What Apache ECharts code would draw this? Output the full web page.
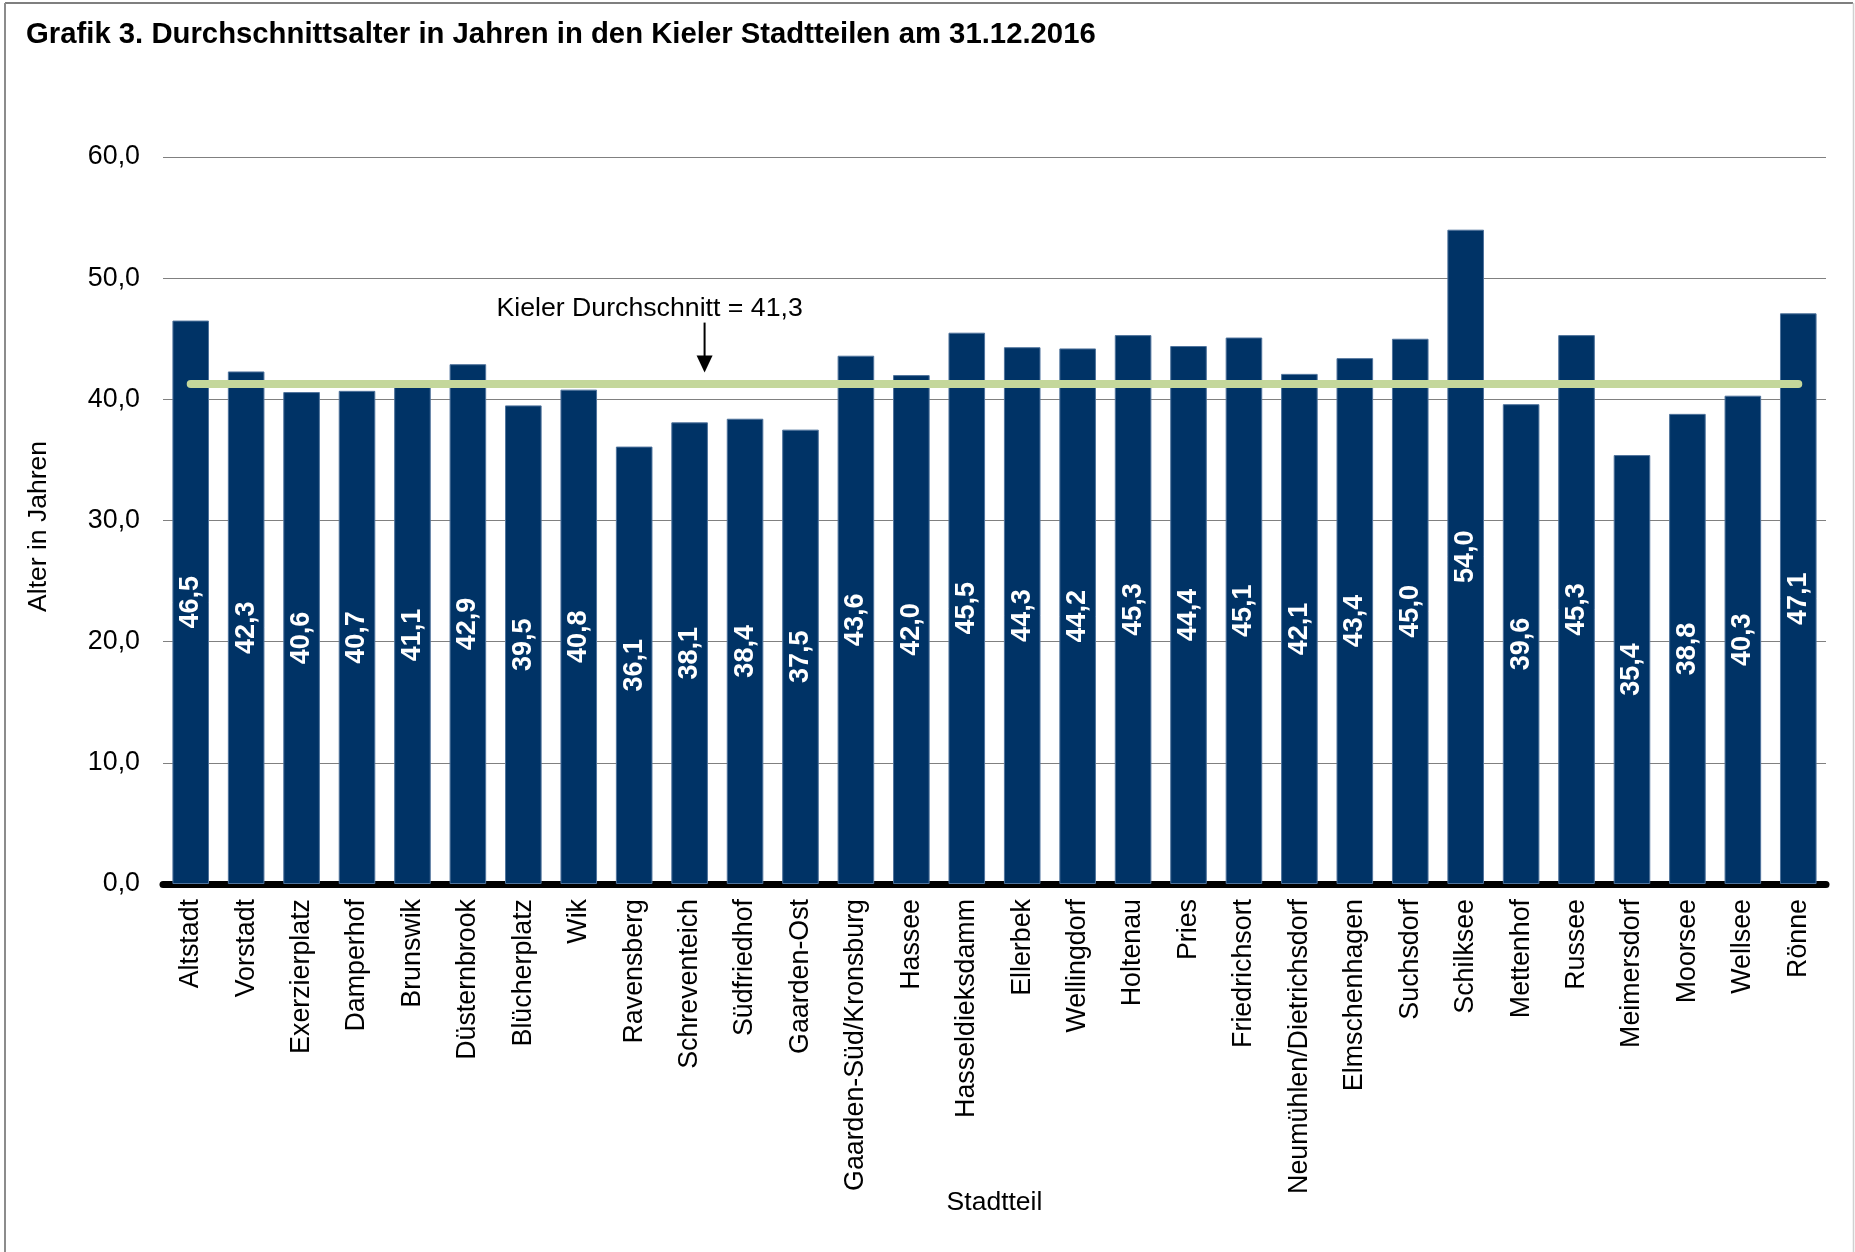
<!DOCTYPE html>
<html>
<head>
<meta charset="utf-8">
<script src="https://cdn.jsdelivr.net/npm/echarts@6/dist/echarts.min.js"></script>
<style>
html,body{margin:0;padding:0;background:#ffffff;}
#c{width:1855px;height:1252px;}
</style>
</head>
<body>
<div id="c"></div>
<script>
const titleText = 'Grafik 3. Durchschnittsalter in Jahren in den Kieler Stadtteilen am 31.12.2016';
const categories = ['Altstadt','Vorstadt','Exerzierplatz','Damperhof','Brunswik','Düsternbrook','Blücherplatz','Wik','Ravensberg','Schreventeich','Südfriedhof','Gaarden-Ost','Gaarden-Süd/Kronsburg','Hassee','Hasseldieksdamm','Ellerbek','Wellingdorf','Holtenau','Pries','Friedrichsort','Neumühlen/Dietrichsdorf','Elmschenhagen','Suchsdorf','Schilksee','Mettenhof','Russee','Meimersdorf','Moorsee','Wellsee','Rönne'];
const ages = [46.5,42.3,40.6,40.7,41.1,42.9,39.5,40.8,36.1,38.1,38.4,37.5,43.6,42.0,45.5,44.3,44.2,45.3,44.4,45.1,42.1,43.4,45.0,54.0,39.6,45.3,35.4,38.8,40.3,47.1];
const cityAverage = 41.3;
const averageLabel = 'Kieler Durchschnitt = 41,3';
const yMin = 0, yMax = 60, yStep = 10;
const yAxisName = 'Alter in Jahren';
const xAxisName = 'Stadtteil';

const FONT = '"Liberation Sans", Arial, sans-serif';
const fmt = v => Number(v).toFixed(1).replace('.', ',');

const chart = echarts.init(document.getElementById('c'), null, {renderer: 'canvas'});
const option = {
  backgroundColor: '#ffffff',
  animation: false,
  title: {
    text: titleText,
    left: 21, top: 15,
    textStyle: {fontFamily: FONT, fontSize: 29.3, fontWeight: 'bold', color: '#000000'}
  },
  grid: {left: 163, right: 29, top: 157, bottom: 368, containLabel: false},
  xAxis: {
    type: 'category',
    data: categories,
    name: xAxisName,
    nameLocation: 'middle',
    nameGap: 305,
    nameMoveOverlap: false,
    nameTextStyle: {fontFamily: FONT, fontSize: 26.5, color: '#000000'},
    axisLine: {show: true, lineStyle: {color: '#000000', width: 7, cap: 'round'}},
    axisTick: {show: false},
    axisLabel: {interval: 0, rotate: 90, margin: 15, fontFamily: FONT, fontSize: 26.8, color: '#000000'}
  },
  yAxis: {
    type: 'value',
    min: yMin, max: yMax, interval: yStep,
    name: yAxisName,
    nameLocation: 'middle',
    nameGap: 111,
    nameRotate: 90,
    nameMoveOverlap: false,
    nameTextStyle: {fontFamily: FONT, fontSize: 26.5, color: '#000000', padding: [0, 12, 0, 0]},
    axisLine: {show: false},
    axisTick: {show: false},
    axisLabel: {margin: 23, fontFamily: FONT, fontSize: 26.8, color: '#000000', formatter: fmt},
    splitLine: {show: true, lineStyle: {color: '#808080', width: 1.2}}
  },
  series: [{
    type: 'bar',
    data: ages,
    barWidth: '66%',
    itemStyle: {color: '#003366', borderColor: '#4f739c', borderWidth: 1},
    label: {
      show: true, position: 'inside', rotate: 90,
      color: '#ffffff', fontFamily: FONT, fontWeight: 'bold', fontSize: 27,
      formatter: p => fmt(p.value)
    },
    markLine: {
      silent: true,
      symbol: ['none', 'none'],
      label: {show: false},
      lineStyle: {color: '#C4D79B', width: 8, type: 'solid', cap: 'round'},
      emphasis: {disabled: true},
      data: [[{coord: [categories[0], cityAverage]}, {coord: [categories[categories.length - 1], cityAverage]}]]
    }
  }]
};
chart.setOption(option);

// Annotation positioned relative to the axes
const p9 = chart.convertToPixel({gridIndex: 0}, [categories[9], cityAverage]);
const p10 = chart.convertToPixel({gridIndex: 0}, [categories[10], cityAverage]);
const ax = p9[0] + 0.27 * (p10[0] - p9[0]);
const ly = p9[1];
chart.setOption({
  graphic: [
    {type: 'line', shape: {x1: 5, y1: 3, x2: 1853, y2: 3}, style: {stroke: '#7f7f7f', lineWidth: 2}, silent: true},
    {type: 'line', shape: {x1: 5, y1: 3, x2: 5, y2: 1252}, style: {stroke: '#8c8c8c', lineWidth: 2}, silent: true},
    {type: 'line', shape: {x1: 1853.5, y1: 3, x2: 1853.5, y2: 1252}, style: {stroke: '#d0d0d0', lineWidth: 1.5}, silent: true},
    {type: 'text', x: ax - 55, y: ly - 75, silent: true,
      style: {text: averageLabel, fontFamily: FONT, fontSize: 26.7, fill: '#000000', textAlign: 'center', textVerticalAlign: 'middle'}},
    {type: 'line', shape: {x1: ax, y1: ly - 61, x2: ax, y2: ly - 24}, style: {stroke: '#000000', lineWidth: 2}, silent: true},
    {type: 'polygon', shape: {points: [[ax - 8, ly - 28], [ax + 8, ly - 28], [ax, ly - 11]]}, style: {fill: '#000000'}, silent: true}
  ]
});
</script>
</body>
</html>
